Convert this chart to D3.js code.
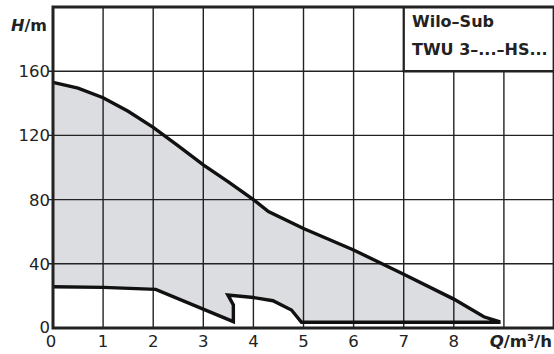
<!DOCTYPE html>
<html><head><meta charset="utf-8">
<script src="https://cdn.jsdelivr.net/npm/d3@7"></script>
<style>body{margin:0;background:#fff}svg{display:block}</style>
</head><body><svg id="c" width="554" height="354"></svg>
<script>
// ---- data ----
const xTicks = [0, 1, 2, 3, 4, 5, 6, 7, 8];
const yTicks = [0, 40, 80, 120, 160];
const xGrid = [1, 2, 3, 4, 5, 6, 7, 8, 9];
const yGrid = [40, 80, 120, 160];
// upper limit curve (Q in m³/h, H in m)
const upperQ = [0, 0.5, 1, 1.5, 2, 2.5, 3, 3.5, 4, 4.3, 5, 6, 7, 8, 8.6, 8.9];
const upperH = [153, 149.5, 143.5, 135, 125, 113.5, 101.6, 91, 80, 72.5, 62, 48.6, 33.5, 18, 7, 4];
// lower limit curve
const lowerQ = [0, 1, 2.05, 3.6, 3.6, 3.49, 4.0, 4.39, 4.76, 4.96, 8.9];
const lowerH = [25.7, 25.3, 24.1, 4, 14.3, 20.6, 19, 17, 11.2, 3.6, 3.6];
const legendLines = ["Wilo–Sub", "TWU 3–...–HS..."];

// ---- chart ----
const svg = d3.select("#c");
const x = d3.scaleLinear().domain([0, 10]).range([53, 554]);
const y = d3.scaleLinear().domain([0, 200]).range([328, 7]);
const font = "'DejaVu Sans', sans-serif";

// fill region
const upper = upperQ.map((q, i) => [q, upperH[i]]);
const lower = lowerQ.map((q, i) => [q, lowerH[i]]);
const outline = upper.concat(lower.slice().reverse());
const line = d3.line().x(d => x(d[0])).y(d => y(d[1]));
svg.append("path").attr("d", line(outline) + "Z").attr("fill", "#dcdde0").attr("stroke", "none");

// grid
const g = svg.append("g").attr("stroke", "#222").attr("stroke-width", 1.4);
xGrid.forEach(v => {
  g.append("line").attr("x1", x(v)).attr("x2", x(v))
    .attr("y1", v > 7 ? y(160) : y(200)).attr("y2", y(0));
});
yGrid.forEach(v => {
  g.append("line").attr("x1", x(0) - 5).attr("x2", 554).attr("y1", y(v)).attr("y2", y(v));
});
// right border
g.append("line").attr("x1", 553.3).attr("x2", 553.3).attr("y1", y(200)).attr("y2", y(0));

// legend box borders
svg.append("line").attr("x1", x(7)).attr("x2", x(7)).attr("y1", y(200)).attr("y2", y(160))
  .attr("stroke", "#222").attr("stroke-width", 2.2);
svg.append("line").attr("x1", x(7) - 1).attr("x2", 554).attr("y1", y(160)).attr("y2", y(160))
  .attr("stroke", "#222").attr("stroke-width", 2.6);

// curve outline
svg.append("path").attr("d", line(outline)).attr("fill", "none")
  .attr("stroke", "#111").attr("stroke-width", 3.4).attr("stroke-linejoin", "miter");

// axes frame
const f = svg.append("g").attr("stroke", "#222").attr("stroke-width", 3).attr("fill", "none");
f.append("path").attr("d", `M554,${y(200)}H${x(0)}V${y(0)}H554`);

// y tick labels
svg.append("g").selectAll("text").data(yTicks).join("text")
  .attr("x", 50).attr("y", d => y(d) - (d === 0 ? 1 : 0)).attr("dy", "0.36em")
  .attr("text-anchor", "end").attr("font-family", font).attr("font-size", 16.5)
  .attr("fill", "#222").text(d => d);
// x tick labels
svg.append("g").selectAll("text").data(xTicks).join("text")
  .attr("x", d => x(d) - (d === 0 ? 2 : 0)).attr("y", 347)
  .attr("text-anchor", "middle").attr("font-family", font).attr("font-size", 16.5)
  .attr("fill", "#222").text(d => d);

// axis titles
const ht = svg.append("text").attr("x", 11).attr("y", 31).attr("font-family", font)
  .attr("font-size", 16).attr("font-weight", "bold").attr("fill", "#222");
ht.append("tspan").attr("font-style", "italic").text("H");
ht.append("tspan").text("/m");
const qt = svg.append("text").attr("x", 552).attr("y", 347).attr("text-anchor", "end")
  .attr("font-family", font).attr("font-size", 16.5).attr("font-weight", "bold").attr("fill", "#222");
qt.append("tspan").attr("font-style", "italic").text("Q");
qt.append("tspan").text("/m³/h");

// legend
svg.append("g").selectAll("text").data(legendLines).join("text")
  .attr("x", 412).attr("y", (d, i) => 27 + i * 28)
  .attr("font-family", font).attr("font-size", 16).attr("font-weight", "bold")
  .attr("fill", "#222").text(d => d);
</script>
</body></html>
